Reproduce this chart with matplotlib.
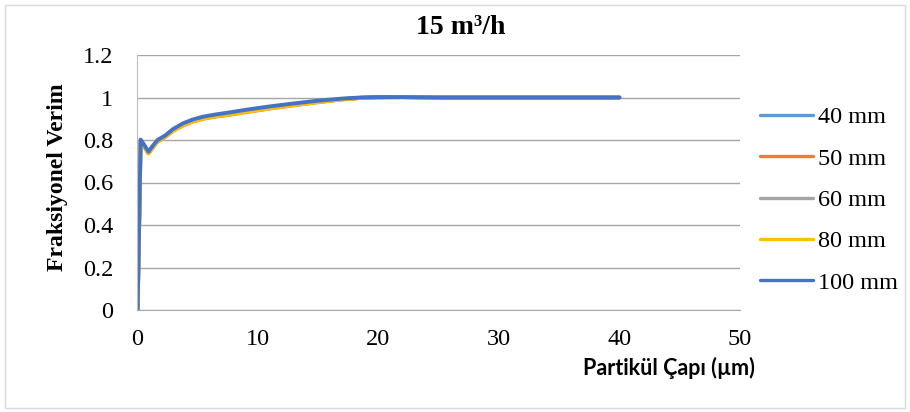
import matplotlib
matplotlib.use("Agg")
import matplotlib.pyplot as plt

x = [0.05, 0.3, 0.6, 0.95, 1.3, 1.7, 2.3, 3.0, 3.8, 4.6, 5.5, 6.5, 7.7, 9.0, 11.0, 13.0, 15.0, 17.0, 18.5, 20.0, 22.0, 25.0, 30.0, 35.0, 40.0]
s40 = [0.0, 0.797, 0.772, 0.739, 0.766, 0.795, 0.815, 0.846, 0.871, 0.889, 0.903, 0.913, 0.922, 0.934, 0.951, 0.966, 0.98, 0.992, 0.998, 1.001, 1.002, 1.0, 1.0, 1.0, 1.0]
s50 = [0.0, 0.795, 0.77, 0.737, 0.764, 0.793, 0.813, 0.843, 0.868, 0.886, 0.9, 0.91, 0.919, 0.931, 0.948, 0.963, 0.978, 0.991, 0.998, 1.001, 1.002, 1.0, 1.0, 1.0, 1.0]
s60 = [0.0, 0.796, 0.771, 0.738, 0.765, 0.794, 0.814, 0.845, 0.87, 0.888, 0.902, 0.912, 0.921, 0.933, 0.95, 0.965, 0.979, 0.992, 0.998, 1.001, 1.002, 1.0, 1.0, 1.0, 1.0]
s80 = [0.0, 0.795, 0.77, 0.737, 0.764, 0.793, 0.813, 0.844, 0.869, 0.887, 0.901, 0.911, 0.92, 0.932, 0.949, 0.964, 0.978, 0.991, 0.998, 1.001, 1.002, 1.0, 1.0, 1.0, 1.0]
s100 = [0.0, 0.802, 0.777, 0.745, 0.772, 0.8, 0.82, 0.852, 0.878, 0.896, 0.91, 0.92, 0.93, 0.942, 0.958, 0.972, 0.985, 0.995, 1.0, 1.002, 1.002, 1.0, 1.0, 1.0, 1.0]
labels = ["40 mm", "50 mm", "60 mm", "80 mm", "100 mm"]
colors = ["#5B9BD5", "#ED7D31", "#A5A5A5", "#FFC000", "#4472C4"]
xticks = [0, 10, 20, 30, 40, 50]
yticks = [0, 0.2, 0.4, 0.6, 0.8, 1, 1.2]
ytick_labels = ["0", "0.2", "0.4", "0.6", "0.8", "1", "1.2"]

serif = ["Liberation Serif", "DejaVu Serif"]
W, H = 910, 412

fig = plt.figure(figsize=(9.1, 4.12), dpi=100)
fig.patch.set_facecolor("white")
border = plt.Rectangle((5/W, 4/H), 900/W, 403/H, transform=fig.transFigure,
                       fill=False, edgecolor="#D9D9D9", linewidth=1)
fig.patches.append(border)

ax = fig.add_axes([137/W, 1 - 310/H, (740-137)/W, (310-55)/H])
for s, lab, c in zip([s40, s50, s60, s80, s100], labels, colors):
    ax.plot(x, s, color=c, linewidth=2.8, label=lab, solid_capstyle="round")

ax.set_xlim(0, 50)
ax.set_ylim(0, 1.2)
ax.set_xticks(xticks)
ax.set_yticks(yticks)
ax.set_yticklabels(ytick_labels)
ax.grid(axis="y", color="#A6A6A6", linewidth=1)
ax.set_axisbelow(True)
for sp in ["top", "right"]:
    ax.spines[sp].set_visible(False)
ax.spines["left"].set_color("#BFBFBF")
ax.spines["bottom"].set_color("#A6A6A6")
ax.tick_params(length=0, labelsize=17.5)
ax.tick_params(axis="x", pad=14)
ax.tick_params(axis="y", pad=17)
for t in ax.get_xticklabels() + ax.get_yticklabels():
    t.set_fontfamily(serif)

fig.text(461/W, 1 - 27/H, "15 m³/h", ha="center", va="center",
         fontsize=20, fontweight="bold", family=serif)
fig.text(57/W, 1 - 177/H, "Fraksiyonel Verim", rotation=90, ha="center", va="center",
         fontsize=17, fontweight="bold", family=serif)
fig.text(669/W, 1 - 368/H, "Partikül Çapı (µm)", ha="center", va="center",
         fontsize=15.5, fontweight="bold", family=["Lato", "DejaVu Sans"])

leg = fig.legend(loc="center left", bbox_to_anchor=(760/W, 1 - 200/H), frameon=False,
                 prop={"family": serif, "size": 17.5}, handlelength=2.2, labelspacing=0.8,
                 handletextpad=0.2, borderpad=0, borderaxespad=0)
for h in leg.get_lines():
    h.set_linewidth(2.4)

fig.savefig("out.png", dpi=100)
